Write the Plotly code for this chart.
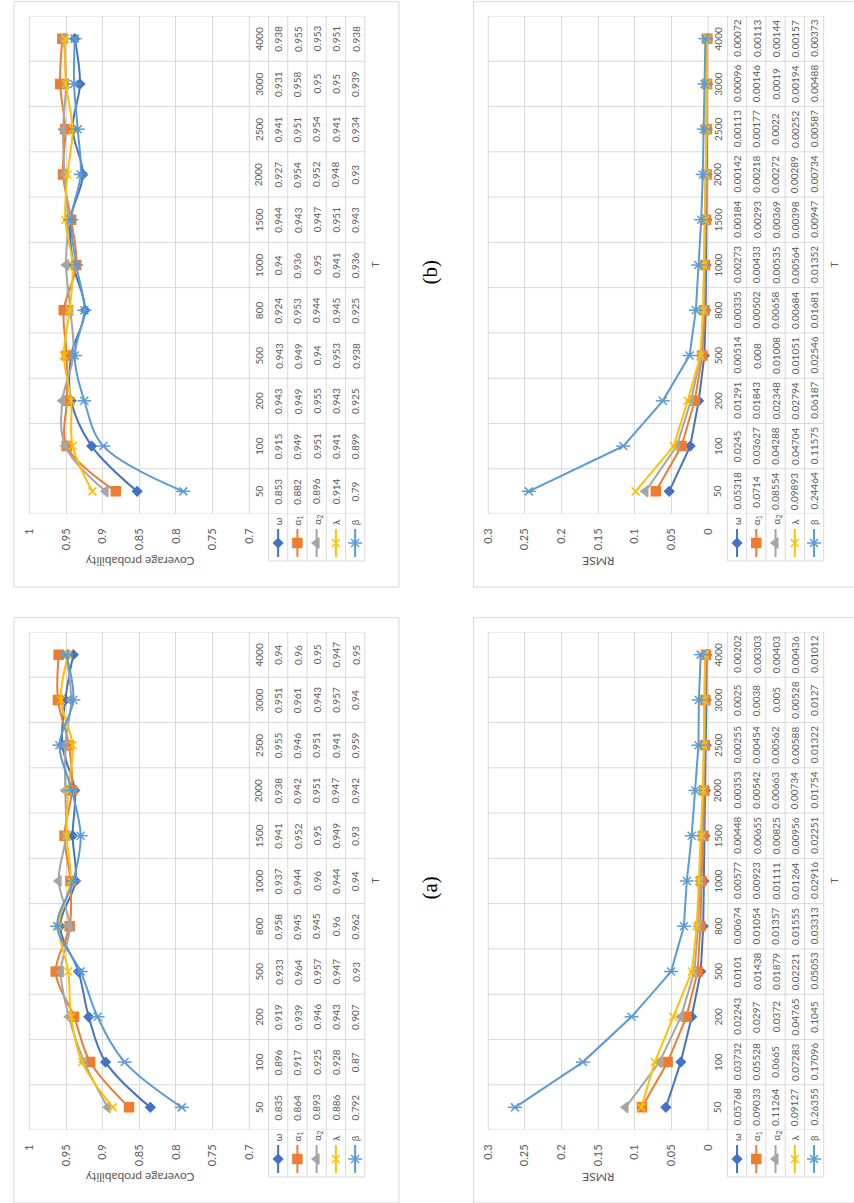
import plotly.graph_objects as go

# ---------------------------------------------------------------------------
# Data
# ---------------------------------------------------------------------------
T_LABELS = ["50", "100", "200", "500", "800", "1000", "1500", "2000", "2500", "3000", "4000"]
SERIES_NAMES = ["ω", "α<sub>1</sub>", "α<sub>2</sub>", "λ", "β"]

# (a) coverage probability
cov_a_omega = [0.835, 0.896, 0.919, 0.933, 0.958, 0.937, 0.941, 0.938, 0.955, 0.951, 0.94]
cov_a_alpha1 = [0.864, 0.917, 0.939, 0.964, 0.945, 0.944, 0.952, 0.942, 0.946, 0.961, 0.96]
cov_a_alpha2 = [0.893, 0.925, 0.946, 0.957, 0.945, 0.96, 0.95, 0.951, 0.951, 0.943, 0.95]
cov_a_lambda = [0.886, 0.928, 0.943, 0.947, 0.96, 0.944, 0.949, 0.947, 0.941, 0.957, 0.947]
cov_a_beta = [0.792, 0.87, 0.907, 0.93, 0.962, 0.94, 0.93, 0.942, 0.959, 0.94, 0.95]

# (a) RMSE
rmse_a_omega = [0.05768, 0.03732, 0.02243, 0.0101, 0.00674, 0.00577, 0.00448, 0.00353, 0.00255, 0.0025, 0.00202]
rmse_a_alpha1 = [0.09033, 0.05528, 0.0297, 0.01438, 0.01054, 0.00923, 0.00655, 0.00542, 0.00454, 0.0038, 0.00303]
rmse_a_alpha2 = [0.11264, 0.0665, 0.0372, 0.01879, 0.01357, 0.01111, 0.00825, 0.00663, 0.00562, 0.005, 0.00403]
rmse_a_lambda = [0.09127, 0.07283, 0.04765, 0.02221, 0.01555, 0.01264, 0.00956, 0.00734, 0.00588, 0.00528, 0.00436]
rmse_a_beta = [0.26355, 0.17096, 0.1045, 0.05053, 0.03313, 0.02916, 0.02251, 0.01754, 0.01322, 0.0127, 0.01012]

# (b) coverage probability
cov_b_omega = [0.853, 0.915, 0.943, 0.943, 0.924, 0.94, 0.944, 0.927, 0.941, 0.931, 0.938]
cov_b_alpha1 = [0.882, 0.949, 0.949, 0.949, 0.953, 0.936, 0.943, 0.954, 0.951, 0.958, 0.955]
cov_b_alpha2 = [0.896, 0.951, 0.955, 0.94, 0.944, 0.95, 0.947, 0.952, 0.954, 0.95, 0.953]
cov_b_lambda = [0.914, 0.941, 0.943, 0.953, 0.945, 0.941, 0.951, 0.948, 0.941, 0.95, 0.951]
cov_b_beta = [0.79, 0.899, 0.925, 0.938, 0.925, 0.936, 0.943, 0.93, 0.934, 0.939, 0.938]

# (b) RMSE
rmse_b_omega = [0.05318, 0.0245, 0.01291, 0.00514, 0.00335, 0.00273, 0.00184, 0.00142, 0.00113, 0.00096, 0.00072]
rmse_b_alpha1 = [0.0714, 0.03627, 0.01843, 0.008, 0.00502, 0.00433, 0.00293, 0.00218, 0.00177, 0.00146, 0.00113]
rmse_b_alpha2 = [0.08554, 0.04288, 0.02348, 0.01008, 0.00658, 0.00535, 0.00369, 0.00272, 0.0022, 0.0019, 0.00144]
rmse_b_lambda = [0.09893, 0.04704, 0.02794, 0.01051, 0.00684, 0.00564, 0.00398, 0.00289, 0.00252, 0.00194, 0.00157]
rmse_b_beta = [0.24464, 0.11575, 0.06187, 0.02546, 0.01681, 0.01352, 0.00947, 0.00734, 0.00587, 0.00488, 0.00373]

COV_TICKS = [1, 0.95, 0.9, 0.85, 0.8, 0.75, 0.7]
RMSE_TICKS = [0.3, 0.25, 0.2, 0.15, 0.1, 0.05, 0]

# ---------------------------------------------------------------------------
# Page geometry (pixels); every chart is laid out turned a quarter turn
# ---------------------------------------------------------------------------
W, H = 854, 1203
FONT = "Lato"
GRID = "#D9D9D9"
TXT = "#595959"
CELL_W = 19.55
TABLE_SIZE = 10

STYLES = [
    dict(color="#4472C4", symbol="diamond", size=7),
    dict(color="#ED7D31", symbol="square", size=9),
    dict(color="#A5A5A5", symbol="triangle-left", size=9),
    dict(color="#FFC000", symbol="x-thin-open", size=8),
    dict(color="#5B9BD5", symbol="x-thin-open", size=8),
]

COLUMNS = [
    dict(kind="cov", box_x0=7, plot_x0=22.7, plot_x1=246, box_x1=398,
         title="Coverage probability", ticks=COV_TICKS, rng=[1, 0.7], shape="spline"),
    dict(kind="rmse", box_x0=473.7, plot_x0=488.7, plot_x1=712, box_x1=870,
         title="RMSE", ticks=RMSE_TICKS, rng=[0.3, 0], shape="linear"),
]

ROWS = [
    dict(label="(b)", dy=0,
         cov=[cov_b_omega, cov_b_alpha1, cov_b_alpha2, cov_b_lambda, cov_b_beta],
         rmse=[rmse_b_omega, rmse_b_alpha1, rmse_b_alpha2, rmse_b_lambda, rmse_b_beta]),
    dict(label="(a)", dy=616,
         cov=[cov_a_omega, cov_a_alpha1, cov_a_alpha2, cov_a_lambda, cov_a_beta],
         rmse=[rmse_a_omega, rmse_a_alpha1, rmse_a_alpha2, rmse_a_lambda, rmse_a_beta]),
]


def px(v):
    return v / W


def py(v):
    return 1 - v / H


def text_note(x, y, text, angle, size=11, xref="paper", yref="paper",
              xanchor="center", yanchor="middle", family=FONT, color=TXT):
    return dict(xref=xref, yref=yref, x=x, y=y, text=text, textangle=angle,
                xanchor=xanchor, yanchor=yanchor, showarrow=False,
                font=dict(family=family, size=size, color=color))


T_POS = list(range(len(T_LABELS)))  # T = 50 sits at the bottom, 4000 at the top

fig = go.Figure()
layout = {}
shapes = []
annotations = []

OVL_X, OVL_Y = "x9", "y9"  # full-page overlay axes (pixel units) for the legend keys
layout["xaxis9"] = dict(domain=[0, 1], range=[0, W], visible=False, anchor="y9", fixedrange=True)
layout["yaxis9"] = dict(domain=[0, 1], range=[H, 0], visible=False, anchor="x9", fixedrange=True)


def line_shape(x0, y0, x1, y1, xref="paper", yref="paper"):
    return dict(type="line", xref=xref, yref=yref, x0=x0, y0=y0, x1=x1, y1=y1,
                line=dict(color=GRID, width=1), layer="below")


n = 0
for row in ROWS:
    dy = row["dy"]
    plot_y0, plot_y1 = 16 + dy, 514 + dy
    leg_y1 = 561 + dy
    box_y0, box_y1 = 1.7 + dy, 587 + dy
    for col in COLUMNS:
        n += 1
        xr = "x" if n == 1 else f"x{n}"
        yr = "y" if n == 1 else f"y{n}"
        xkey = "xaxis" if n == 1 else f"xaxis{n}"
        ykey = "yaxis" if n == 1 else f"yaxis{n}"
        x0, x1 = col["plot_x0"], col["plot_x1"]
        tab_end = x1 + 6 * CELL_W

        layout[xkey] = dict(
            domain=[px(x0), px(x1)], range=col["rng"], anchor=yr,
            tickmode="array", tickvals=col["ticks"],
            ticktext=[f"{t:g}" for t in col["ticks"]],
            tickangle=-90, ticks="outside", ticklen=9, tickcolor="rgba(0,0,0,0)",
            tickfont=dict(family=FONT, size=11, color=TXT),
            showgrid=True, gridcolor=GRID, gridwidth=1,
            zeroline=False, showline=False, fixedrange=True,
        )
        layout[ykey] = dict(
            domain=[py(plot_y1), py(plot_y0)], range=[-0.5, len(T_LABELS) - 0.5],
            anchor=xr, showgrid=False, showticklabels=False, zeroline=False,
            ticks="", fixedrange=True,
        )

        # chart frame
        shapes.append(dict(type="rect", xref="paper", yref="paper",
                           x0=px(col["box_x0"]), x1=px(col["box_x1"]),
                           y0=py(box_y1), y1=py(box_y0),
                           line=dict(color=GRID, width=1), fillcolor="rgba(0,0,0,0)",
                           layer="below"))
        # category boundaries running through plot area and data table
        for k in range(len(T_LABELS) + 1):
            shapes.append(line_shape(px(x0), k - 0.5, px(tab_end), k - 0.5, yref=yr))
        # table column separators
        shapes.append(line_shape(px(x0), py(plot_y0), px(x0), py(plot_y1)))
        shapes.append(line_shape(px(x1), py(plot_y0), px(x1), py(plot_y1)))
        for j in range(1, 7):
            xx = px(x1 + j * CELL_W)
            shapes.append(line_shape(xx, py(plot_y0), xx, py(leg_y1)))
        shapes.append(line_shape(px(x1 + CELL_W), py(leg_y1), px(tab_end), py(leg_y1)))

        # data table: T column and one column per series
        for i, t in enumerate(T_LABELS):
            annotations.append(text_note(px(x1 + 0.5 * CELL_W), i, t, -90,
                                         size=TABLE_SIZE, yref=yr))
        series = row[col["kind"]]
        for j, vals in enumerate(series):
            cx = x1 + (j + 1.5) * CELL_W
            for i, v in enumerate(vals):
                annotations.append(text_note(px(cx), i, f"{v:g}", -90,
                                             size=TABLE_SIZE, yref=yr))
            # legend cell: label and key
            annotations.append(text_note(px(cx), py(527 + dy), SERIES_NAMES[j], -90,
                                         size=TABLE_SIZE, yanchor="bottom"))
            st = STYLES[j]
            fig.add_trace(go.Scatter(
                x=[cx, cx], y=[529 + dy, 557 + dy], xaxis=OVL_X, yaxis=OVL_Y,
                mode="lines", line=dict(color=st["color"], width=2),
                hoverinfo="skip", showlegend=False))
            fig.add_trace(go.Scatter(
                x=[cx], y=[543 + dy], xaxis=OVL_X, yaxis=OVL_Y, mode="markers",
                marker=dict(symbol=st["symbol"], size=st["size"], color=st["color"],
                            line=dict(color=st["color"], width=1.5)),
                hoverinfo="skip", showlegend=False))
            if j == 4:
                fig.add_trace(go.Scatter(
                    x=[cx], y=[543 + dy], xaxis=OVL_X, yaxis=OVL_Y, mode="markers",
                    marker=dict(symbol="line-ew-open", size=10, color=st["color"],
                                line=dict(color=st["color"], width=1.5)),
                    hoverinfo="skip", showlegend=False))

        # the series themselves
        for j, vals in enumerate(series):
            st = STYLES[j]
            fig.add_trace(go.Scatter(
                x=vals, y=T_POS, xaxis=xr, yaxis=yr, mode="lines+markers",
                line=dict(color=st["color"], width=2, shape=col["shape"], smoothing=1),
                marker=dict(symbol=st["symbol"], size=st["size"], color=st["color"],
                            line=dict(color=st["color"], width=1.5)),
                cliponaxis=False, showlegend=False, name=SERIES_NAMES[j]))
            if j == 4:
                fig.add_trace(go.Scatter(
                    x=vals, y=T_POS, xaxis=xr, yaxis=yr, mode="markers",
                    marker=dict(symbol="line-ew-open", size=10, color=st["color"],
                                line=dict(color=st["color"], width=1.5)),
                    cliponaxis=False, showlegend=False, hoverinfo="skip"))

        # axis titles
        annotations.append(text_note(px((x0 + x1) / 2), py(562 + dy), col["title"], 180, size=12))
        annotations.append(text_note(px(tab_end + 10), py((plot_y0 + plot_y1) / 2), "T", -90,
                                     size=TABLE_SIZE))

    # panel label between the two charts of the row
    annotations.append(text_note(px(430), py(272 + dy), row["label"], -90, size=21,
                                 family="Liberation Serif", color="#000000"))

fig.update_layout(
    width=W, height=H, margin=dict(l=0, r=0, t=0, b=0),
    paper_bgcolor="white", plot_bgcolor="rgba(0,0,0,0)",
    showlegend=False, shapes=shapes, annotations=annotations, **layout,
)

fig.write_html("out.html")
